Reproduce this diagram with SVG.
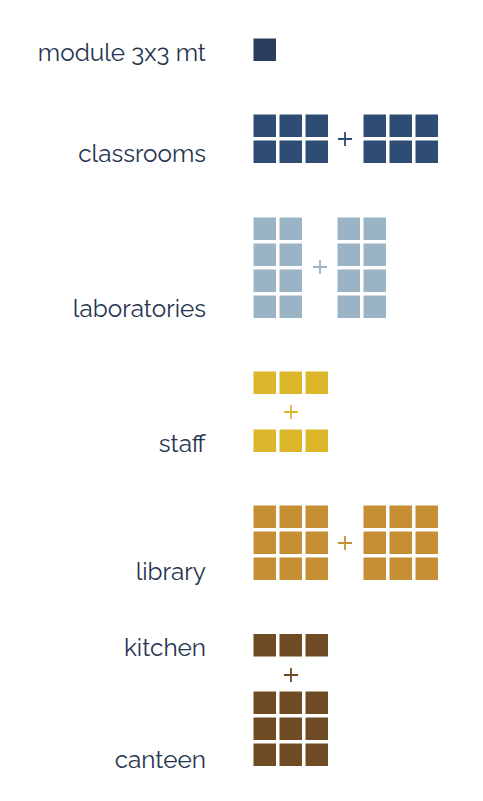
<svg xmlns="http://www.w3.org/2000/svg" width="483" height="801" viewBox="0 0 483 801">
<defs>
<style>
text{font-family:"Raleway","Lato","Liberation Sans",sans-serif;font-size:24.3px;fill:#25344f;text-anchor:end}
.plus{fill:none;stroke-width:1.8}
</style>
<rect id="m" width="22.5" height="22.5"/>
</defs>
<rect width="483" height="801" fill="#ffffff"/>
<g id="module">
<text x="206" y="60.5">module 3x3 mt</text>
<use href="#m" x="253.5" y="38.5" fill="#2b3d5c"/>
</g>
<g id="classrooms" fill="#2f4c75">
<text x="206" y="161.5">classrooms</text>
<use href="#m" x="253.5" y="114.5"/><use href="#m" x="279.5" y="114.5"/><use href="#m" x="305.5" y="114.5"/>
<use href="#m" x="253.5" y="140.5"/><use href="#m" x="279.5" y="140.5"/><use href="#m" x="305.5" y="140.5"/>
<path class="plus" stroke="#2f4c75" d="M338,139H352M345,132V146"/>
<use href="#m" x="363.5" y="114.5"/><use href="#m" x="389.5" y="114.5"/><use href="#m" x="415.5" y="114.5"/>
<use href="#m" x="363.5" y="140.5"/><use href="#m" x="389.5" y="140.5"/><use href="#m" x="415.5" y="140.5"/>
</g>
<g id="laboratories" fill="#9bb4c5">
<text x="206" y="316.5">laboratories</text>
<use href="#m" x="253.5" y="217.5"/><use href="#m" x="279.5" y="217.5"/>
<use href="#m" x="253.5" y="243.5"/><use href="#m" x="279.5" y="243.5"/>
<use href="#m" x="253.5" y="269.5"/><use href="#m" x="279.5" y="269.5"/>
<use href="#m" x="253.5" y="295.5"/><use href="#m" x="279.5" y="295.5"/>
<path class="plus" stroke="#9bb4c5" d="M313,267H327M320,260V274"/>
<use href="#m" x="337.5" y="217.5"/><use href="#m" x="363.5" y="217.5"/>
<use href="#m" x="337.5" y="243.5"/><use href="#m" x="363.5" y="243.5"/>
<use href="#m" x="337.5" y="269.5"/><use href="#m" x="363.5" y="269.5"/>
<use href="#m" x="337.5" y="295.5"/><use href="#m" x="363.5" y="295.5"/>
</g>
<g id="staff" fill="#dcb72c">
<text x="206" y="451.5">staff</text>
<use href="#m" x="253.5" y="371.5"/><use href="#m" x="279.5" y="371.5"/><use href="#m" x="305.5" y="371.5"/>
<path class="plus" stroke="#dcb72c" d="M284,412H298M291,405V419"/>
<use href="#m" x="253.5" y="429.5"/><use href="#m" x="279.5" y="429.5"/><use href="#m" x="305.5" y="429.5"/>
</g>
<g id="library" fill="#c78f33">
<text x="206" y="579.5">library</text>
<use href="#m" x="253.5" y="505.5"/><use href="#m" x="279.5" y="505.5"/><use href="#m" x="305.5" y="505.5"/>
<use href="#m" x="253.5" y="531.5"/><use href="#m" x="279.5" y="531.5"/><use href="#m" x="305.5" y="531.5"/>
<use href="#m" x="253.5" y="557.5"/><use href="#m" x="279.5" y="557.5"/><use href="#m" x="305.5" y="557.5"/>
<path class="plus" stroke="#c78f33" d="M338,543H352M345,536V550"/>
<use href="#m" x="363.5" y="505.5"/><use href="#m" x="389.5" y="505.5"/><use href="#m" x="415.5" y="505.5"/>
<use href="#m" x="363.5" y="531.5"/><use href="#m" x="389.5" y="531.5"/><use href="#m" x="415.5" y="531.5"/>
<use href="#m" x="363.5" y="557.5"/><use href="#m" x="389.5" y="557.5"/><use href="#m" x="415.5" y="557.5"/>
</g>
<g id="kitchen" fill="#6e4b23">
<text x="206" y="656">kitchen</text>
<use href="#m" x="253.5" y="634"/><use href="#m" x="279.5" y="634"/><use href="#m" x="305.5" y="634"/>
<path class="plus" stroke="#6e4b23" d="M284,675H298M291,668V682"/>
</g>
<g id="canteen" fill="#6e4b23">
<text x="206" y="768">canteen</text>
<use href="#m" x="253.5" y="691.5"/><use href="#m" x="279.5" y="691.5"/><use href="#m" x="305.5" y="691.5"/>
<use href="#m" x="253.5" y="717.5"/><use href="#m" x="279.5" y="717.5"/><use href="#m" x="305.5" y="717.5"/>
<use href="#m" x="253.5" y="743.5"/><use href="#m" x="279.5" y="743.5"/><use href="#m" x="305.5" y="743.5"/>
</g>
<g id="connectors"/>
</svg>
